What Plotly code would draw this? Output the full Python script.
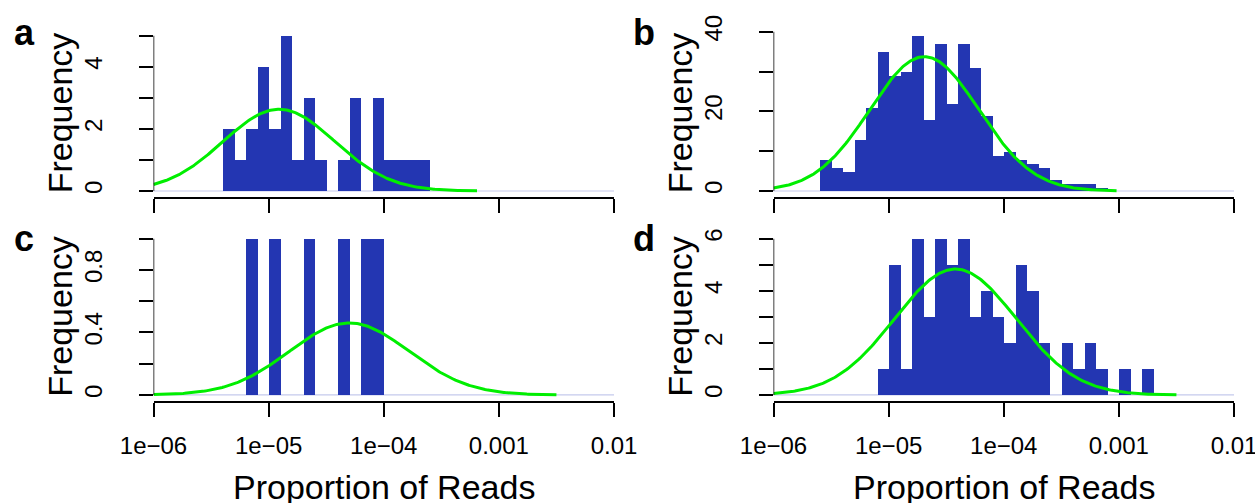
import numpy as np
import plotly.graph_objects as go

# ---------------- data ----------------
tick_vals = [-6, -5, -4, -3, -2]            # log10(proportion)
tick_text = ["1e\u221206", "1e\u221205", "1e\u221204", "0.001", "0.01"]

bin_width = 0.1                              # log10 units

a_bin_start = -5.4
a_counts = [2, 1, 2, 4, 2, 5, 1, 3, 1, 0, 1, 3, 0, 3, 1, 1, 1, 1]

b_bin_start = -5.6
b_counts = [8, 6, 5, 13, 21, 35, 29, 30, 39, 18, 37, 22, 37, 31, 19,
            9, 10, 8, 7, 6, 3, 2, 2, 2, 1]

c_bin_start = -5.2
c_counts = [1, 0, 1, 0, 0, 1, 0, 0, 1, 0, 1, 1]

d_bin_start = -5.1
d_counts = [1, 5, 1, 6, 3, 6, 5, 6, 3, 4, 3, 2, 5, 4, 2, 0, 2, 1, 2, 1,
            0, 1, 0, 1]

# fitted normal curves (log10 scale): mean, sd, x-extent
a_fit = dict(mean=-4.91, sd=0.485, x_from=-6.0, x_to=-3.19)
b_fit = dict(mean=-4.69, sd=0.473, x_from=-6.0, x_to=-3.02)
c_fit = dict(mean=-4.30, sd=0.519, x_from=-6.0, x_to=-2.50)
d_fit = dict(mean=-4.42, sd=0.528, x_from=-6.0, x_to=-2.50)

# y-axis ticks and labels
a_yticks = [0, 1, 2, 3, 4, 5];              a_ylabels = ["0", "", "2", "", "4", ""]
b_yticks = [0, 10, 20, 30, 40];             b_ylabels = ["0", "", "20", "", "40"]
c_yticks = [0, 0.2, 0.4, 0.6, 0.8, 1.0];    c_ylabels = ["0", "", "0.4", "", "0.8", ""]
d_yticks = [0, 1, 2, 3, 4, 5, 6];           d_ylabels = ["0", "", "2", "", "4", "", "6"]

panel_letters = ["a", "b", "c", "d"]
x_title = "Proportion of Reads"
y_title = "Frequency"

# ---------------- styling / layout ----------------
W, H = 1255, 503
BAR = "#2336B2"
CURVE = "#00EE00"
BASE = "#C5CAEC"
FONT = "Liberation Sans, Arial, Helvetica, sans-serif"

def px_x(p):
    return p / W

def px_y(p):
    return (H - p) / H

x_dom_left = [px_x(153.5), px_x(614.0)]
x_dom_right = [px_x(773.5), px_x(1234.0)]
y_dom_top = [px_y(197.2), px_y(29.5)]
y_dom_bot = [px_y(401.2), px_y(232.5)]

panels = [
    dict(start=a_bin_start, counts=a_counts, fit=a_fit, yt=a_yticks, yl=a_ylabels,
         xd=x_dom_left, yd=y_dom_top, bottom=False),
    dict(start=b_bin_start, counts=b_counts, fit=b_fit, yt=b_yticks, yl=b_ylabels,
         xd=x_dom_right, yd=y_dom_top, bottom=False),
    dict(start=c_bin_start, counts=c_counts, fit=c_fit, yt=c_yticks, yl=c_ylabels,
         xd=x_dom_left, yd=y_dom_bot, bottom=True),
    dict(start=d_bin_start, counts=d_counts, fit=d_fit, yt=d_yticks, yl=d_ylabels,
         xd=x_dom_right, yd=y_dom_bot, bottom=True),
]

fig = go.Figure()
layout = dict(
    width=W, height=H, autosize=False,
    margin=dict(l=0, r=0, t=0, b=0, pad=0, autoexpand=False),
    paper_bgcolor="white", plot_bgcolor="white",
    showlegend=False, bargap=0,
    font=dict(family=FONT, color="black"),
)
shapes = []
annotations = []

for i, p in enumerate(panels):
    k = "" if i == 0 else str(i + 1)
    xa, ya = "x" + k, "y" + k
    counts = p["counts"]
    centers = [p["start"] + (j + 0.5) * bin_width for j in range(len(counts))]
    fig.add_trace(go.Bar(x=centers, y=counts, width=bin_width,
                         marker=dict(color=BAR, line=dict(width=0)),
                         xaxis=xa, yaxis=ya, hoverinfo="skip"))
    f = p["fit"]
    n = sum(counts)
    xs = np.linspace(f["x_from"], f["x_to"], 300)
    ys = n * bin_width * np.exp(-0.5 * ((xs - f["mean"]) / f["sd"]) ** 2) / (f["sd"] * np.sqrt(2 * np.pi))
    fig.add_trace(go.Scatter(x=xs, y=ys, mode="lines",
                             line=dict(color=CURVE, width=3),
                             xaxis=xa, yaxis=ya, hoverinfo="skip"))
    ymax = max(p["yt"])
    yr = [-0.04 * max(counts), 1.04 * max(counts)]
    layout["xaxis" + k] = dict(
        domain=p["xd"], anchor=ya, range=[-6, -2], automargin=False,
        tickmode="array", tickvals=tick_vals, ticktext=tick_text,
        showticklabels=p["bottom"], ticks="outside", ticklen=14, tickwidth=1.5,
        tickcolor="black", showline=True, linecolor="black", linewidth=1.5,
        showgrid=False, zeroline=False, ticklabelstandoff=8,
        ticklabeloverflow="allow",
        tickfont=dict(size=24, family=FONT, color="black"),
    )
    layout["yaxis" + k] = dict(
        domain=p["yd"], anchor=xa, range=yr, automargin=False,
        tickmode="array", tickvals=p["yt"], ticktext=p["yl"],
        ticks="outside", ticklen=14, tickwidth=1.5, tickcolor="black",
        showline=False, showgrid=False, zeroline=False, tickangle=-90,
        ticklabelstandoff=27,
        tickfont=dict(size=24, family=FONT, color="black"),
    )
    # baseline at zero
    shapes.append(dict(type="line", xref=xa + " domain", yref=ya,
                       x0=0, x1=1, y0=0, y1=0,
                       line=dict(color=BASE, width=1.2), layer="below"))
    # y axis line from 0 to last tick (R style)
    shapes.append(dict(type="line", xref=xa, yref=ya,
                       x0=-6, x1=-6, y0=0, y1=ymax,
                       line=dict(color="black", width=1.5)))
    # y title, panel letter
    xoff = p["xd"][0] * W - 153.5
    annotations.append(dict(text=y_title, textangle=-90, showarrow=False,
                            xref="paper", yref="paper",
                            x=px_x(60 + xoff), y=(p["yd"][0] + p["yd"][1]) / 2,
                            xanchor="center", yanchor="middle",
                            font=dict(size=34, family=FONT, color="black")))
    yoff = 0 if not p["bottom"] else (232.5 - 29.5)
    annotations.append(dict(text="<b>" + panel_letters[i] + "</b>", showarrow=False,
                            xref="paper", yref="paper",
                            x=px_x(24 + xoff), y=px_y(33 + yoff + (2 if p["bottom"] else 0)),
                            xanchor="center", yanchor="middle",
                            font=dict(size=36, family=FONT, color="black")))
    if p["bottom"]:
        annotations.append(dict(text=x_title, showarrow=False,
                                xref="paper", yref="paper",
                                x=(p["xd"][0] + p["xd"][1]) / 2, y=px_y(487),
                                xanchor="center", yanchor="middle",
                                font=dict(size=34, family=FONT, color="black")))

layout["shapes"] = shapes
layout["annotations"] = annotations
fig.update_layout(**layout)
fig.write_html("out.html", config={"displayModeBar": False},
               post_script="document.body.style.margin='0';document.body.style.overflow='hidden';")
